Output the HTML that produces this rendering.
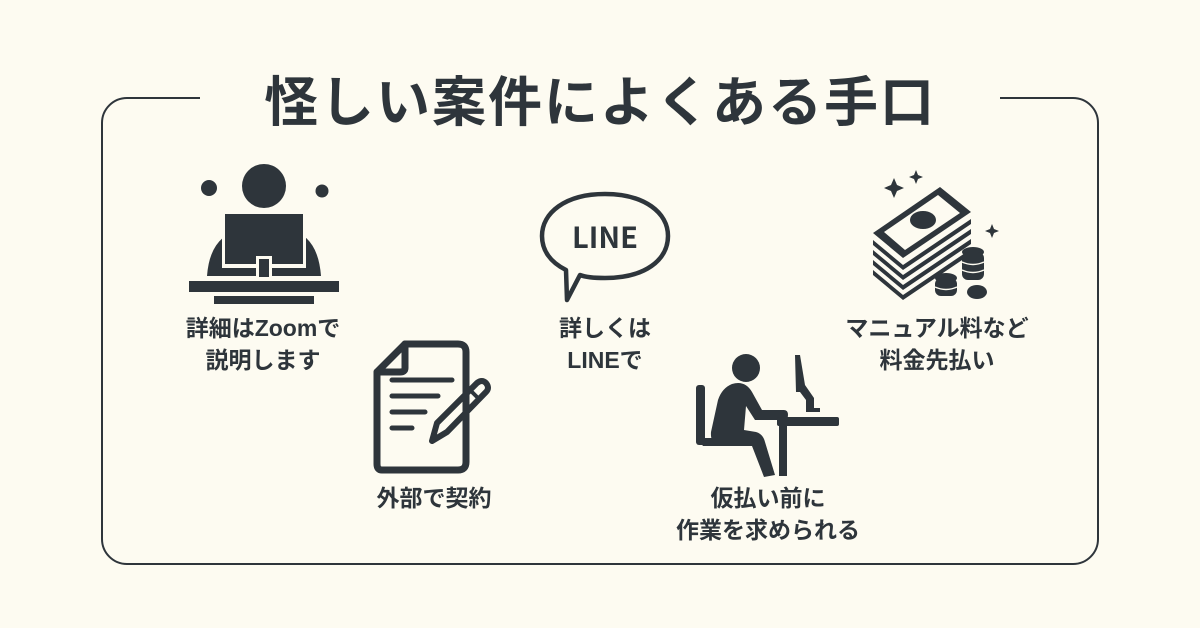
<!DOCTYPE html>
<html><head><meta charset="utf-8"><style>
html,body{margin:0;padding:0}
body{width:1200px;height:628px;background:#fdfbf1;position:relative;overflow:hidden;font-family:"Liberation Sans","Noto Sans CJK JP",sans-serif;color:#2e353b}
.box{position:absolute;left:101px;top:97px;width:994px;height:464px;border:2.5px solid #2e353b;border-radius:26px}
.gap{position:absolute;left:200px;top:90px;width:800px;height:16px;background:#fdfbf1}
.title{position:absolute;left:0;width:1200px;top:66px;text-align:center;font-size:54px;font-weight:bold;line-height:64px;letter-spacing:2px;font-family:"Noto Sans CJK JP",sans-serif}
.lbl{position:absolute;font-size:23px;font-weight:bold;line-height:32px;text-align:center;width:260px;white-space:nowrap}
svg{position:absolute;left:0;top:0}
</style></head><body>
<div class="box"></div><div class="gap"></div>
<div class="title">怪しい案件によくある手口</div>
<svg width="1200" height="628" viewBox="0 0 1200 628">
<g fill="#2e353b">
<circle cx="264" cy="186" r="22"/><circle cx="209" cy="188" r="8"/><circle cx="322" cy="191" r="6.5"/>
<path d="M207 276 Q210 236 240 230 L290 230 Q318 236 321 276 Z"/>
<rect x="222" y="212" width="84" height="56" fill="#fdfbf1"/>
<rect x="225" y="214" width="78" height="50"/>
<rect x="256" y="256" width="16" height="22" fill="#fdfbf1"/>
<rect x="259" y="259" width="10" height="18"/>
<rect x="189" y="281" width="150" height="11"/>
<rect x="214" y="296" width="100" height="8"/>
</g>
<g fill="none" stroke="#2e353b" stroke-width="7" stroke-linejoin="round" stroke-linecap="round">
<path d="M405 344 L458 344 Q466 344 466 352 L466 462 Q466 470 458 470 L382 470 Q377 470 377 464 L377 372 Z"/>
<path d="M405 344 L405 368 Q405 372 400 372 L377 372"/>
<path d="M392 380 L452 380 M392 396 L438 396 M392 412 L425 412 M392 428 L412 428" stroke-width="5"/>
<path d="M437 423 L477 383 Q482 379 486 383 Q490 388 486 392 L447 432 L432 441 Z" stroke-width="6"/>
<path d="M470 390 L479 399" stroke-width="4"/>
</g>
<path d="M605 194 C645 194 668 213 668 236 C668 260 645 278 605 278 C595 278 585 277 580 275 L567 300 L566 270 C550 262 542 250 542 236 C542 213 565 194 605 194 Z" fill="none" stroke="#2e353b" stroke-width="4.5" stroke-linejoin="round"/>
<text x="605" y="248" font-size="29" font-weight="bold" text-anchor="middle" fill="#2e353b" font-family="Noto Sans CJK JP,sans-serif">LINE</text>
<g fill="#2e353b">
<circle cx="746" cy="368" r="14"/>
<rect x="696" y="385" width="9" height="60" rx="3"/>
<path d="M697 438 L742 438 L744 446 L703 446 Z"/>
<path d="M732 384 Q745 380 752 392 L762 410 L784 410 Q788 410 788 415 Q788 420 784 420 L755 420 L746 406 L744 430 L756 432 Q763 434 765 442 L775 475 L764 477 L752 446 L720 446 Q710 444 711 432 L718 400 Q722 388 732 384 Z"/>
<rect x="777" y="417" width="62" height="9" rx="2"/>
<rect x="779" y="420" width="8" height="56"/>
<path d="M795 355 L800 355 L805 385 L814 398 L814 408 L820 408 L820 412 L806 412 L806 400 L800 392 L796 392 Z"/>
</g>
<g fill="#2e353b">
<path d="M894 178 l3 7 7 3 -7 3 -3 7 -3 -7 -7 -3 7 -3z"/>
<path d="M916 170 l2 5 5 2 -5 2 -2 5 -2 -5 -5 -2 5 -2z"/>
<path d="M992 224 l2 5 5 2 -5 2 -2 5 -2 -5 -5 -2 5 -2z"/>
<path d="M873 233 L940 187 L971 212 L903 258 Z"/>
<path d="M873 240 L903 265 L971 219 L971 224 L903 270 L873 245 Z"/>
<path d="M873 250 L903 275 L971 229 L971 234 L903 280 L873 255 Z"/>
<path d="M873 260 L903 285 L971 239 L971 244 L903 290 L873 265 Z"/>
<path d="M873 270 L903 295 L971 249 L971 254 L903 300 L873 275 Z"/>
<path d="M884 232 L938 195 L960 213 L905 250 Z" fill="#fdfbf1"/>
<ellipse cx="923" cy="220" rx="13" ry="9"/>
<ellipse cx="973" cy="252" rx="11" ry="5"/>
<rect x="962" y="252" width="22" height="28" rx="6"/>
<ellipse cx="946" cy="278" rx="11" ry="5"/>
<rect x="935" y="278" width="22" height="18" rx="6"/>
<ellipse cx="977" cy="292" rx="10" ry="7"/>
</g>
<g stroke="#fdfbf1" stroke-width="1.5" fill="none">
<path d="M962 262 Q973 267 984 262 M962 270 Q973 275 984 270 M935 287 Q946 292 957 287"/>
</g>
</svg>
<div class="lbl" style="left:133px;top:312px">詳細はZoomで<br>説明します</div>
<div class="lbl" style="left:304px;top:482px">外部で契約</div>
<div class="lbl" style="left:475px;top:312px">詳しくは<br>LINEで</div>
<div class="lbl" style="left:638px;top:482px">仮払い前に<br>作業を求められる</div>
<div class="lbl" style="left:807px;top:312px">マニュアル料など<br>料金先払い</div>
</body></html>
